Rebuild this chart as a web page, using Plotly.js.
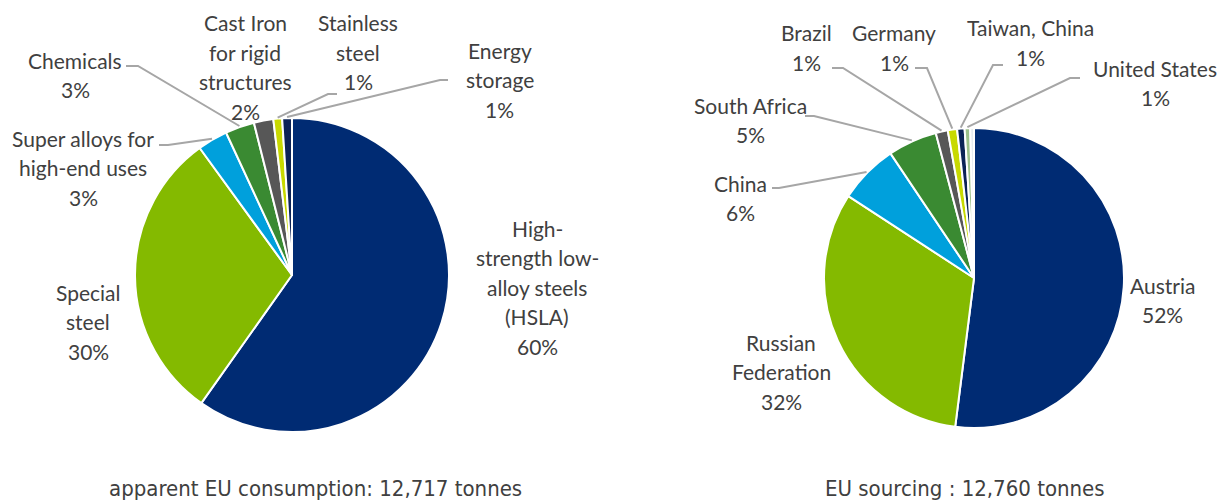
<!DOCTYPE html>
<html>
<head>
<meta charset="utf-8">
<script src="https://cdn.plot.ly/plotly-3.0.1.min.js"></script>
<style>html,body{margin:0;padding:0;background:#fff;}#chart{width:1231px;height:502px;}</style>
</head>
<body>
<div id="chart"></div>
<script>
// ---------- DATA ----------
const useCategories = ['High-<br>strength low-<br>alloy steels<br>(HSLA)', 'Special<br>steel', 'Super alloys for<br>high-end uses', 'Chemicals', 'Cast Iron<br>for rigid<br>structures', 'Stainless<br>steel', 'Energy<br>storage'];
const useShares = [59.8, 30.2, 3.1, 3.0, 2.0, 0.9, 1.0];
const useTitle = 'apparent EU consumption: 12,717 tonnes';

const sourceCategories = ['Austria', 'Russian<br>Federation', 'China', 'South Africa', 'Brazil', 'Germany', 'Taiwan, China', 'United States', 'Other'];
const sourceShares = [52.0, 32.2, 6.4, 5.3, 1.3, 1.0, 0.8, 0.6, 0.4];
const sourceTitle = 'EU sourcing : 12,760 tonnes';

// ---------- STYLE ----------
const W = 1231, H = 502;
const useColors = ['#002B73', '#84BA00', '#00A0DC', '#3A8A32', '#575757', '#C8D900', '#0C2356'];
const sourceColors = ['#002B73', '#84BA00', '#00A0DC', '#3A8A32', '#575757', '#C8D900', '#0C2356', '#9DC08A', '#E6ECF0'];
const FONT = 'Lato, "Open Sans", sans-serif';
const TITLE_FONT = '"DejaVu Sans Condensed", "Liberation Sans Narrow", Lato, sans-serif';
const TXT = '#404040';
const LINE = '#A6A6A6';
const LH = 29.5;
const FS = 21;

// pie geometry (pixel centre and radius) -> domains
const pies = [
  {cx: 292, cy: 275, r: 157},
  {cx: 974, cy: 278, r: 150}
];
function domainOf(p) {
  return {x: [(p.cx - p.r) / W, (p.cx + p.r) / W], y: [1 - (p.cy + p.r) / H, 1 - (p.cy - p.r) / H]};
}

// label placement: [index, centreX, firstLineY, leader (null or [startX, startY, bendX])]
const usePlace = [
  [0, 537, 228, null],
  [1, 88, 292, null],
  [2, 83, 138, [159, 145, 168]],
  [3, 75, 60, [126, 66, 138]],
  [4, 245, 23, null],
  [5, 358, 23, [337, 94, 328]],
  [6, 500, 50, [448, 80, 440]]
];
const sourcePlace = [
  [0, 1162, 285, null],
  [1, 781, 342, null],
  [2, 740, 183, [772, 188, 779]],
  [3, 750, 105, [805, 116, 814]],
  [4, 806, 33, [832, 68, 843]],
  [5, 894, 33, [915, 68, 927]],
  [6, 1030, 28, [1003, 65, 993]],
  [7, 1155, 68, [1080, 78, 1070]]
];

const X = px => px / W;
const Y = py => 1 - py / H;

const annotations = [];
const shapes = [];

function addLabels(cats, vals, place, pie) {
  const total = vals.reduce((a, b) => a + b, 0);
  const cum = [];
  let c = 0;
  vals.forEach(v => { cum.push(c); c += v; });
  place.forEach(([i, lx, ly, leader]) => {
    const pct = Math.round(vals[i] / total * 100) + '%';
    const lines = cats[i].split('<br>').concat([pct]);
    lines.forEach((t, k) => {
      annotations.push({
        xref: 'paper', yref: 'paper', x: X(lx), y: Y(ly + k * LH),
        xanchor: 'center', yanchor: 'middle', showarrow: false,
        text: t, font: {family: FONT, size: FS, color: TXT}
      });
    });
    if (leader) {
      const mid = (cum[i] + vals[i] / 2) / total * 2 * Math.PI;
      const ex = pie.cx + (pie.r + 1) * Math.sin(mid);
      const ey = pie.cy - (pie.r + 1) * Math.cos(mid);
      const [sx, sy, bx] = leader;
      shapes.push({
        type: 'path', xref: 'paper', yref: 'paper',
        path: `M ${X(sx)} ${Y(sy)} L ${X(bx)} ${Y(sy)} L ${X(ex)} ${Y(ey)}`,
        line: {color: LINE, width: 2}
      });
    }
  });
}
addLabels(useCategories, useShares, usePlace, pies[0]);
addLabels(sourceCategories, sourceShares, sourcePlace, pies[1]);

annotations.push({xref: 'paper', yref: 'paper', x: X(315), y: Y(488), xanchor: 'center', yanchor: 'middle', showarrow: false,
  text: useTitle, font: {family: TITLE_FONT, size: 22, color: TXT}});
annotations.push({xref: 'paper', yref: 'paper', x: X(965), y: Y(488), xanchor: 'center', yanchor: 'middle', showarrow: false,
  text: sourceTitle, font: {family: TITLE_FONT, size: 22, color: TXT}});

const traces = [
  {type: 'pie', labels: useCategories.map(s => s.replace(/<br>/g, ' ')), values: useShares, sort: false, direction: 'clockwise', rotation: 0,
   textinfo: 'none', hoverinfo: 'label+percent', marker: {colors: useColors, line: {color: '#ffffff', width: 2}}, domain: domainOf(pies[0])},
  {type: 'pie', labels: sourceCategories.map(s => s.replace(/<br>/g, ' ')), values: sourceShares, sort: false, direction: 'clockwise', rotation: 0,
   textinfo: 'none', hoverinfo: 'label+percent', marker: {colors: sourceColors, line: {color: '#ffffff', width: 2}}, domain: domainOf(pies[1])}
];

Plotly.newPlot('chart', traces, {
  width: W, height: H, margin: {l: 0, r: 0, t: 0, b: 0},
  paper_bgcolor: '#ffffff', plot_bgcolor: '#ffffff', showlegend: false,
  annotations: annotations, shapes: shapes
}, {displayModeBar: false, staticPlot: true});
</script>
</body>
</html>
